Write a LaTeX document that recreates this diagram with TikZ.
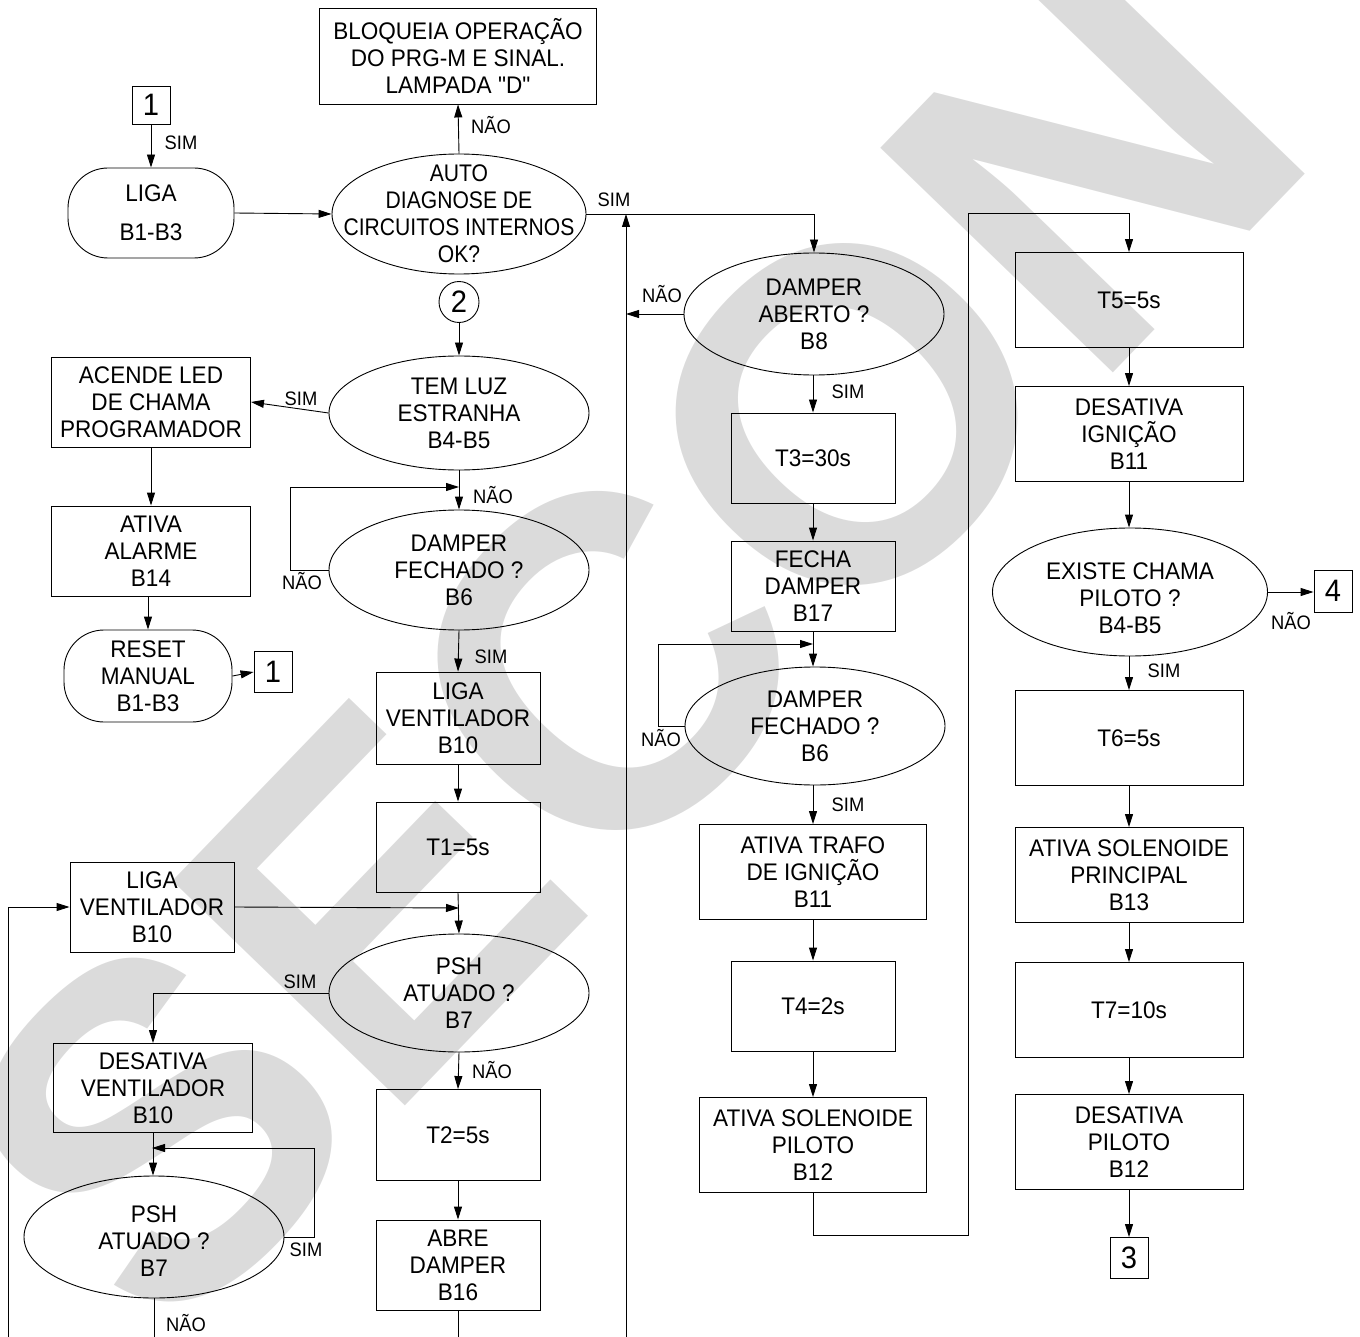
\documentclass[tikz,border=0pt]{standalone}
\usepackage{fontspec}
\newfontfamily\mainf[FakeStretch=0.94]{Liberation Sans}
\newfontfamily\mainn[FakeStretch=0.88]{Liberation Sans}
\newfontfamily\wmfont{Liberation Sans}
\usetikzlibrary{arrows.meta,shapes.geometric}
\tikzset{
 txt/.style={font=\mainf\fontsize{24}{27}\selectfont, align=center, inner sep=0pt},
 box/.style={txt, draw, line width=0.9pt},
 ell/.style={draw, ellipse, inner sep=0pt, line width=0.9pt},
 term/.style={txt, draw, rounded corners=40pt, line width=0.9pt},
 num/.style={draw, line width=0.9pt, font=\mainf\fontsize{31}{31}\selectfont, inner sep=0pt},
 lab/.style={font=\mainf\fontsize{19.5}{20}\selectfont, inner sep=0pt},
 arr/.style={line width=0.9pt, -{Triangle[length=13pt,width=8pt]}},
 ln/.style={line width=0.9pt},
}
\begin{document}
\begin{tikzpicture}[x=1pt,y=-1pt]
\useasboundingbox (0,0) rectangle (1360,1337);
% watermark
\node[rotate=46, text=black!14, inner sep=0pt, font=\wmfont\bfseries\fontsize{470}{470}\selectfont] (wm) at (630,640) {SECON};

% left/top column
\node[box, minimum width=277pt, minimum height=96pt] (bloq) at (458,56) {BLOQUEIA OPERAÇÃO\\DO PRG-M E SINAL.\\LAMPADA "D"};
\node[num, minimum width=38pt, minimum height=38pt] (c1) at (151,105) {1};
\node[term, minimum width=166pt, minimum height=90pt] (liga) at (151,213) {LIGA\\[12pt]B1-B3};
\node[ell, minimum width=254pt, minimum height=120pt] (auto) at (459,214) {};
\node[txt, font=\mainn\fontsize{24}{27}\selectfont] (autot) at (auto) {AUTO\\DIAGNOSE DE\\CIRCUITOS INTERNOS\\OK?};
\node[num, ellipse, minimum width=40pt, minimum height=41pt] (c2) at (459,302) {2};
\node[ell, minimum width=260pt, minimum height=114pt] (temluz) at (459,413) {};
\node[txt] (temluzt) at (temluz) {TEM LUZ\\ESTRANHA\\B4-B5};
\node[box, minimum width=199pt, minimum height=90pt] (acende) at (151,402) {ACENDE LED\\DE CHAMA\\PROGRAMADOR};
\node[box, minimum width=199pt, minimum height=90pt] (alarme) at (151,551) {ATIVA\\ALARME\\B14};
\node[term, minimum width=168pt, minimum height=92pt] (reset) at (148,676) {RESET\\MANUAL\\B1-B3};
\node[num, minimum width=38pt, minimum height=41pt] (c1b) at (273,672) {1};
\node[ell, minimum width=260pt, minimum height=120pt] (df1) at (459,570) {};
\node[txt] (df1t) at (df1) {DAMPER\\FECHADO ?\\B6};
\node[box, minimum width=164pt, minimum height=92pt] (ligav1) at (458,718) {LIGA\\VENTILADOR\\B10};
\node[box, minimum width=164pt, minimum height=90pt] (t1) at (458,847) {T1=5s};
\node[box, minimum width=164pt, minimum height=90pt] (ligav2) at (152,907) {LIGA\\VENTILADOR\\B10};
\node[ell, minimum width=260pt, minimum height=118pt] (psh1) at (459,993) {};
\node[txt] (psh1t) at (psh1) {PSH\\ATUADO ?\\B7};
\node[box, minimum width=199pt, minimum height=89pt] (desat) at (153,1088) {DESATIVA\\VENTILADOR\\B10};
\node[ell, minimum width=260pt, minimum height=122pt] (psh2) at (154,1237) {};
\node[txt] (psh2t) at ([yshift=-4pt]psh2) {PSH\\ATUADO ?\\B7};
\node[box, minimum width=164pt, minimum height=91pt] (t2) at (458,1135) {T2=5s};
\node[box, minimum width=164pt, minimum height=90pt] (abre) at (458,1265) {ABRE\\DAMPER\\B16};

% middle column
\node[ell, minimum width=260pt, minimum height=122pt] (dab) at (814,314) {};
\node[txt] (dabt) at (dab) {DAMPER\\ABERTO ?\\B8};
\node[box, minimum width=164pt, minimum height=90pt] (t3) at (813,458) {T3=30s};
\node[box, minimum width=164pt, minimum height=90pt] (fecha) at (813,586) {FECHA\\DAMPER\\B17};
\node[ell, minimum width=260pt, minimum height=118pt] (df2) at (815,726) {};
\node[txt] (df2t) at (df2) {DAMPER\\FECHADO ?\\B6};
\node[box, minimum width=227pt, minimum height=95pt] (trafo) at (813,872) {ATIVA TRAFO\\DE IGNIÇÃO\\B11};
\node[box, minimum width=164pt, minimum height=90pt] (t4) at (813,1006) {T4=2s};
\node[box, minimum width=227pt, minimum height=95pt] (solp) at (813,1145) {ATIVA SOLENOIDE\\PILOTO\\B12};

% right column
\node[box, minimum width=228pt, minimum height=95pt] (t5) at (1129,300) {T5=5s};
\node[box, minimum width=228pt, minimum height=95pt] (desig) at (1129,434) {DESATIVA\\IGNIÇÃO\\B11};
\node[ell, minimum width=275pt, minimum height=128pt] (exist) at (1130,592) {};
\node[txt] (existt) at ([yshift=-6pt]exist) {EXISTE CHAMA\\PILOTO ?\\B4-B5};
\node[num, minimum width=38pt, minimum height=42pt] (c4) at (1333,591) {4};
\node[box, minimum width=228pt, minimum height=95pt] (t6) at (1129,738) {T6=5s};
\node[box, minimum width=228pt, minimum height=95pt] (solpr) at (1129,875) {ATIVA SOLENOIDE\\PRINCIPAL\\B13};
\node[box, minimum width=228pt, minimum height=95pt] (t7) at (1129,1010) {T7=10s};
\node[box, minimum width=228pt, minimum height=95pt] (despil) at (1129,1142) {DESATIVA\\PILOTO\\B12};
\node[num, minimum width=38pt, minimum height=41pt] (c3) at (1129,1258) {3};

% coordinates
\coordinate (rj) at (626,214);
\coordinate (rb) at (626,1337);
\coordinate (j1) at (459,487);
\coordinate (j2) at (459,908);
\coordinate (lb) at (8,1337);
\coordinate (j3) at (152,1148);
\coordinate (pb) at (154,1337);
\coordinate (ab) at (458,1337);
\coordinate (j4) at (813,644);
\coordinate (m1) at (968,1235);
\coordinate (m2) at (968,213);

% connectors
\draw[arr] (c1.south) -- (c1.south |- liga.north);
\draw[arr] (liga.east) -- (auto.west);
\draw[arr] (auto.north) -- (bloq.south);
\draw[arr] (auto.east) -- (auto.east -| dab.north) -- (dab.north);
\draw[arr] (rb) -- (rj);
\draw[arr] (dab.west) -- (dab.west -| rb);
\draw[arr] (c2.south) -- (temluz.north);
\draw[arr] (temluz.west) -- (acende.east);
\draw[arr] (acende.south) -- (alarme.north);
\draw[arr] (reset.north |- alarme.south) -- (reset.north);
\draw[arr] (reset.east) -- (c1b.west);
\draw[arr] (temluz.south) -- (df1.north);
\draw[arr] (df1.west) -- ++(-38,0) |- (j1);
\draw[arr] (df1.south) -- (ligav1.north);
\draw[arr] (ligav1.south) -- (t1.north);
\draw[arr] (t1.south) -- (psh1.north);
\draw[arr] (ligav2.east) -- (j2);
\draw[arr] (lb) |- (ligav2.west);
\draw[arr] (psh1.west) -| (desat.north);
\draw[arr] (desat.south) -- (desat.south |- psh2.north);
\draw[arr] (psh2.east) -- ++(30,0) |- (j3);
\draw[ln] (psh2.south) -- (pb);
\draw[arr] (psh1.south) -- (t2.north);
\draw[arr] (t2.south) -- (abre.north);
\draw[ln] (abre.south) -- (ab);
\draw[arr] (dab.south -| t3.north) -- (t3.north);
\draw[arr] (t3.south) -- (fecha.north);
\draw[arr] (fecha.south) -- (fecha.south |- df2.north);
\draw[arr] (df2.west) -- ++(-26,0) |- (j4);
\draw[arr] (df2.south -| trafo.north) -- (trafo.north);
\draw[arr] (trafo.south) -- (t4.north);
\draw[arr] (t4.south) -- (solp.north);
\draw[arr] (solp.south) -- (solp.south |- m1) -- (m1) -- (m2) -- (m2 -| t5.north) -- (t5.north);
\draw[arr] (t5.south) -- (desig.north);
\draw[arr] (desig.south) -- (desig.south |- exist.north);
\draw[arr] (exist.east) -- (exist.east -| c4.west);
\draw[arr] (exist.south -| t6.north) -- (t6.north);
\draw[arr] (t6.south) -- (solpr.north);
\draw[arr] (solpr.south) -- (t7.north);
\draw[arr] (t7.south) -- (despil.north);
\draw[arr] (despil.south) -- (c3.north);

% labels
\node[lab] (l1) at (181,143) {SIM};
\node[lab] (l2) at (491,125) {NÃO};
\node[lab] (l3) at (614,200) {SIM};
\node[lab] (l4) at (662,294) {NÃO};
\node[lab] (l5) at (301,399) {SIM};
\node[lab] (l6) at (493,495) {NÃO};
\node[lab] (l7) at (302,581) {NÃO};
\node[lab] (l8) at (491,657) {SIM};
\node[lab] (l9) at (300,982) {SIM};
\node[lab] (l10) at (492,1070) {NÃO};
\node[lab] (l11) at (306,1250) {SIM};
\node[lab] (l12) at (186,1323) {NÃO};
\node[lab] (l13) at (848,392) {SIM};
\node[lab] (l14) at (661,738) {NÃO};
\node[lab] (l15) at (848,805) {SIM};
\node[lab] (l16) at (1291,621) {NÃO};
\node[lab] (l17) at (1164,671) {SIM};
\end{tikzpicture}
\end{document}
